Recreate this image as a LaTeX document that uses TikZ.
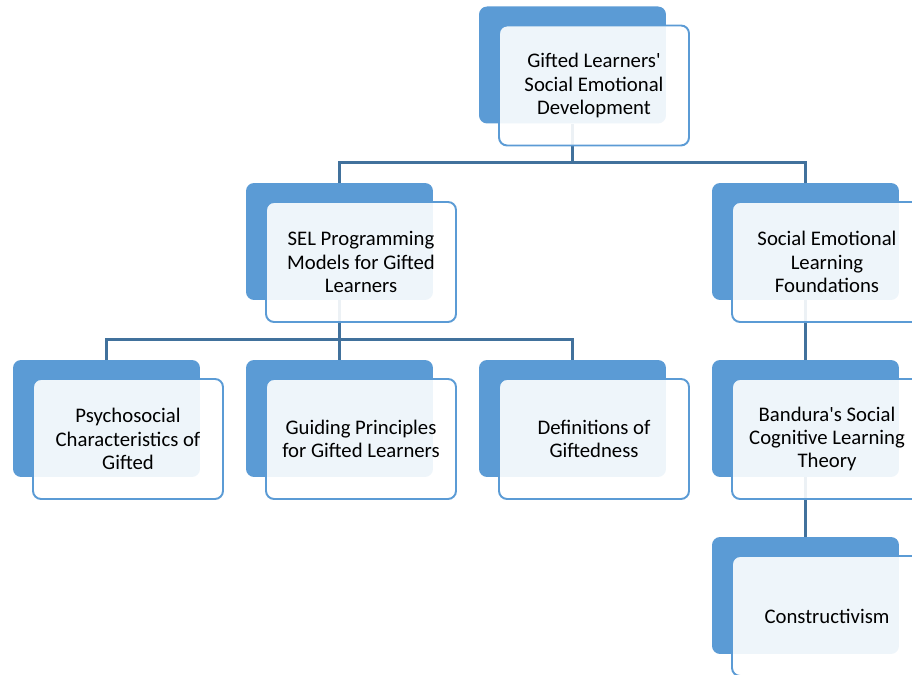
\documentclass[tikz,border=0pt]{standalone}
\usepackage{fontspec}
\setmainfont{Carlito}
\definecolor{accentblue}{HTML}{5B9BD5}
\definecolor{linkblue}{HTML}{41719C}
\begin{document}
\begin{tikzpicture}[x=0.02cm, y=0.02cm,
    backbox/.style={fill=accentblue, rounded corners=0.16cm, minimum width=3.74cm, minimum height=2.34cm},
    frontbox/.style={draw=accentblue, line width=1.1pt, fill=white, fill opacity=0.9, text opacity=1,
        rounded corners=0.16cm, minimum width=3.8cm, minimum height=2.4cm, align=center,
        font=\fontsize{11.8}{13.3}\selectfont},
    link/.style={draw=linkblue, line width=1.4pt}]
    % Page size of the reference
    \useasboundingbox (0,0) rectangle (912,675);
    \clip (0,0) rectangle (912,675);

    % Back tiles
    \node[backbox] (topb) at (572.5,610) {};
    \node[backbox] (selb) at (339.5,433.5) {};
    \node[backbox] (sefb) at (805.5,433.5) {};
    \node[backbox] (psyb) at (106.5,256.5) {};
    \node[backbox] (guib) at (339.5,256.5) {};
    \node[backbox] (defb) at (572.5,256.5) {};
    \node[backbox] (banb) at (805.5,256.5) {};
    \node[backbox] (conb) at (805.5,79.5) {};

    % Connectors
    \draw[link] (selb.north) -- ++(0,20) -| (topb.south);
    \draw[link] (sefb.north) -- ++(0,20) -| (topb.south);
    \draw[link] (psyb.north) -- ++(0,20) -| (selb.south);
    \draw[link] (guib.north) -- (selb.south);
    \draw[link] (defb.north) -- ++(0,20) -| (selb.south);
    \draw[link] (banb.north) -- (sefb.south);
    \draw[link] (conb.north) -- (banb.south);

    % Front tiles with text
    \node[frontbox] (top) at ([shift={(21.5,-20.5)}]topb.center) {Gifted Learners\textquotesingle\\Social Emotional\\Development};
    \node[frontbox] (sel) at ([shift={(21.5,-20.5)}]selb.center) {SEL Programming\\Models for Gifted\\Learners};
    \node[frontbox] (sef) at ([shift={(21.5,-20.5)}]sefb.center) {Social Emotional\\Learning\\Foundations};
    \node[frontbox] (psy) at ([shift={(21.5,-20.5)}]psyb.center) {Psychosocial\\Characteristics of\\Gifted};
    \node[frontbox] (gui) at ([shift={(21.5,-20.5)}]guib.center) {Guiding Principles\\for Gifted Learners};
    \node[frontbox] (def) at ([shift={(21.5,-20.5)}]defb.center) {Definitions of\\Giftedness};
    \node[frontbox] (ban) at ([shift={(21.5,-20.5)}]banb.center) {Bandura\textquotesingle s Social\\Cognitive Learning\\Theory};
    \node[frontbox] (con) at ([shift={(21.5,-20.5)}]conb.center) {Constructivism};
\end{tikzpicture}
\end{document}
